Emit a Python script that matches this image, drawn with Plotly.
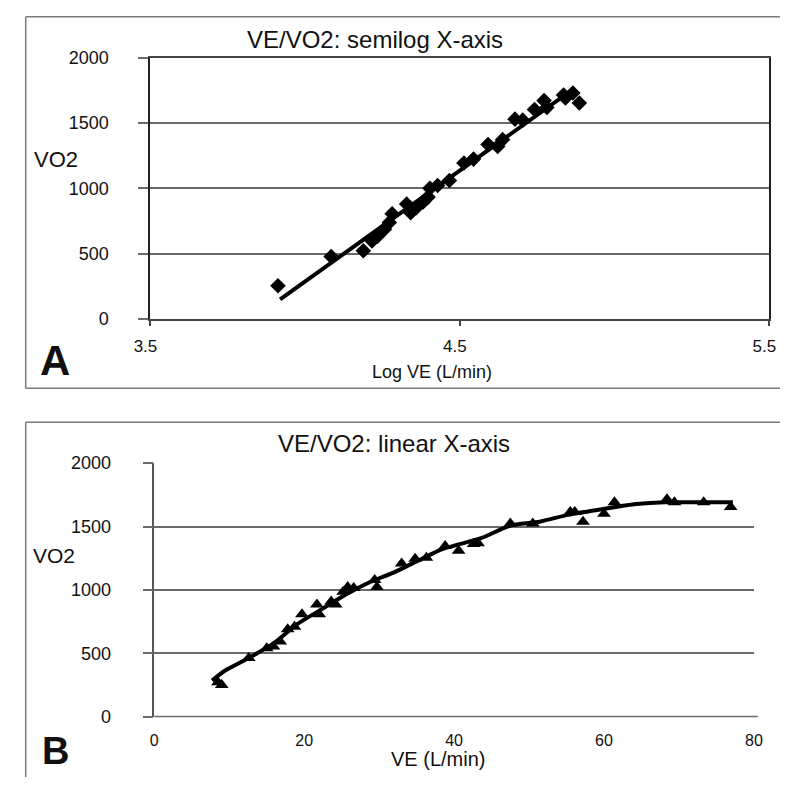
import plotly.graph_objects as go

# ---------------- data ----------------
# Panel A: semilog X-axis
logve_a = [3.912, 4.084, 4.188, 4.216, 4.234, 4.256, 4.272, 4.281, 4.328, 4.341,
           4.359, 4.381, 4.397, 4.403, 4.428, 4.466, 4.513, 4.544, 4.591, 4.622,
           4.638, 4.678, 4.703, 4.741, 4.772, 4.781, 4.835, 4.841, 4.865, 4.886]
vo2_a = [254, 478, 522, 597, 634, 687, 739, 806, 880, 813,
         851, 896, 933, 1000, 1022, 1060, 1194, 1224, 1336, 1321,
         1373, 1530, 1522, 1604, 1672, 1619, 1715, 1692, 1730, 1654]
fit_a_x = [3.919, 4.872]
fit_a_y = [149, 1770]

# Panel B: linear X-axis
ve_b = [8.5, 9.0, 12.6, 15.0, 15.9, 16.8, 17.8, 18.7, 19.7, 21.7, 22.0, 23.6,
        24.2, 25.2, 25.8, 26.6, 29.4, 29.7, 33.0, 34.8, 36.3, 38.8, 40.6, 42.6,
        43.2, 47.5, 50.5, 55.5, 56.1, 57.2, 60.0, 61.4, 68.4, 69.4, 73.3, 76.9]
vo2_b = [270, 250, 462, 540, 554, 592, 690, 708, 808, 885, 808, 908,
         885, 985, 1023, 1015, 1077, 1023, 1208, 1246, 1254, 1346, 1308, 1362,
         1369, 1523, 1523, 1615, 1615, 1538, 1600, 1692, 1715, 1692, 1692, 1654]
curve_b_x = [7.7, 9.4, 12.6, 15.9, 19.1, 22.3, 25.5, 28.8, 32.0, 35.2,
             38.5, 43.6, 47.5, 51.4, 55.2, 59.1, 64.3, 68.1, 72.0, 77.2]
curve_b_y = [285, 362, 462, 577, 731, 846, 962, 1062, 1138, 1231,
             1323, 1408, 1508, 1538, 1592, 1631, 1677, 1692, 1692, 1692]

a_xticks = [3.5, 4.5, 5.5]
b_xticks = [0, 20, 40, 60, 80]
y_ticks = [0, 500, 1000, 1500, 2000]

FONT = "Arial, Liberation Sans, Helvetica, sans-serif"
W, H = 789, 787

fig = go.Figure()

# Panel A
fig.add_trace(go.Scatter(x=logve_a, y=vo2_a, mode="markers", xaxis="x", yaxis="y",
                         marker=dict(symbol="diamond", size=12, color="black"),
                         showlegend=False))
fig.add_trace(go.Scatter(x=fit_a_x, y=fit_a_y, mode="lines", xaxis="x", yaxis="y",
                         line=dict(color="black", width=4), showlegend=False))

# Panel B
fig.add_trace(go.Scatter(x=ve_b, y=vo2_b, mode="markers", xaxis="x2", yaxis="y2",
                         marker=dict(symbol="triangle-up", size=12, color="black"),
                         showlegend=False))
fig.add_trace(go.Scatter(x=curve_b_x, y=curve_b_y, mode="lines", xaxis="x2", yaxis="y2",
                         line=dict(color="black", width=4, shape="spline", smoothing=0.5),
                         showlegend=False))

def px_x(p):
    return p / W

def px_y(p):
    return 1 - p / H

grid_col = "#6a6a6a"
tickfont = dict(family=FONT, size=18, color="#111")

fig.update_layout(
    width=W, height=H,
    margin=dict(l=0, r=0, t=0, b=0),
    paper_bgcolor="white", plot_bgcolor="white",
    font=dict(family=FONT, color="#111"),
    xaxis=dict(domain=[px_x(138), px_x(778)], range=[3.5, 5.5],
               tickvals=a_xticks, ticktext=["3.5", "4.5", "5.5"],
               showgrid=False, zeroline=False,
               showline=True, linecolor="#444", linewidth=1.5, mirror=True,
               ticks="outside", ticklen=5, tickcolor="#444", tickwidth=1.5,
               tickfont=dict(family=FONT, size=17, color="#111"),
               ticklabelstandoff=6, ticklabelshift=-5, anchor="y"),
    yaxis=dict(domain=[px_y(317), px_y(49)], range=[0, 2000],
               tickvals=y_ticks, showgrid=True, gridcolor=grid_col, gridwidth=1.5,
               zeroline=False, showline=True, linecolor="#222", linewidth=2, mirror=True,
               ticks="outside", ticklen=10, tickcolor=grid_col, tickwidth=1.5,
               tickfont=tickfont, ticklabelstandoff=26, anchor="x"),
    xaxis2=dict(domain=[px_x(142), px_x(762)], range=[0, 80],
                tickvals=b_xticks, showgrid=False, zeroline=False,
                showline=False, ticks="", tickfont=dict(family=FONT, size=16, color="#111"),
                ticklabelstandoff=12, anchor="y2"),
    yaxis2=dict(domain=[px_y(725), px_y(465)], range=[0, 2000],
                tickvals=y_ticks, showgrid=True, gridcolor=grid_col, gridwidth=1.5,
                zeroline=False, showline=True, linecolor="#555", linewidth=1.5,
                ticks="outside", ticklen=10, tickcolor=grid_col, tickwidth=1.5,
                tickfont=tickfont, ticklabelstandoff=28, anchor="x2"),
)

box_col = "#7a7a7a"
def hline(x0, x1, y):
    fig.add_shape(type="line", xref="paper", yref="paper",
                  x0=px_x(x0), x1=px_x(x1), y0=px_y(y), y1=px_y(y),
                  line=dict(color=box_col, width=1.5))
def vline(x, y0, y1):
    fig.add_shape(type="line", xref="paper", yref="paper",
                  x0=px_x(x), x1=px_x(x), y0=px_y(y0), y1=px_y(y1),
                  line=dict(color=box_col, width=1.5))
hline(9, 789, 7)
hline(9, 789, 388)
vline(9, 7, 388)
hline(9, 789, 423)
vline(9, 423, 787)

fig.add_shape(type="line", xref="paper", yref="paper",
              x0=px_x(142), x1=px_x(766), y0=px_y(725), y1=px_y(725),
              line=dict(color=grid_col, width=1.5))

def ann(text, x, y, size, bold=False, xanchor="center"):
    fig.add_annotation(text=("<b>%s</b>" % text) if bold else text,
                       xref="paper", yref="paper", x=px_x(x), y=px_y(y),
                       xanchor=xanchor, yanchor="middle", showarrow=False,
                       font=dict(family=FONT, size=size, color="#111"))

ann("VE/VO2: semilog X-axis", 370, 30, 24)
ann("VO2", 40, 153, 22)
ann("Log VE (L/min)", 429, 371, 18)
ann("A", 39, 360, 42, bold=True)

ann("VE/VO2: linear X-axis", 390, 445, 24)
ann("VO2", 38, 560, 21)
ann("VE (L/min)", 435, 769, 20)
ann("B", 40, 760, 38, bold=True)

fig.write_html("out.html", config={"displayModeBar": False},
               post_script="document.body.style.margin='0';document.body.style.overflow='hidden';")
